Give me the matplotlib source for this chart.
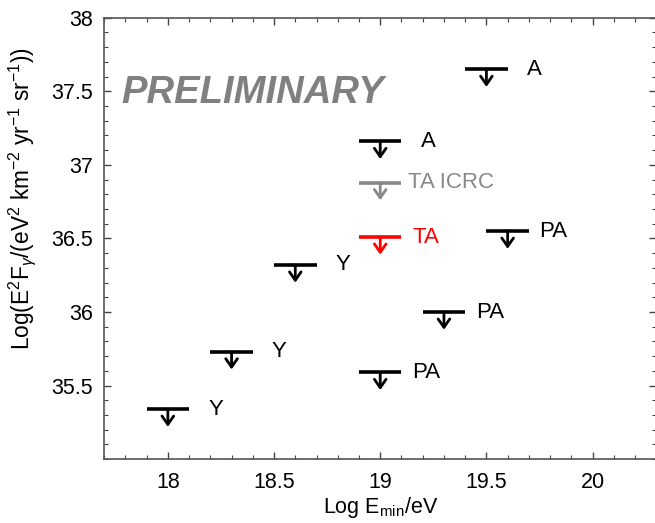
import numpy as np
import matplotlib
matplotlib.use("Agg")
import matplotlib.pyplot as plt
from matplotlib.ticker import MultipleLocator

plt.rcParams['font.family'] = ['Liberation Sans', 'DejaVu Sans']
plt.rcParams['mathtext.fontset'] = 'custom'
plt.rcParams['mathtext.rm'] = 'Liberation Sans'
plt.rcParams['mathtext.it'] = 'Liberation Sans:italic'

# upper limits: log E_min, log E^2 F, label, color
y_x = [18.0, 18.3, 18.6]
y_val = [35.34, 35.73, 36.32]
a_x = [19.0, 19.5]
a_val = [37.16, 37.65]
pa_x = [19.0, 19.3, 19.6]
pa_val = [35.59, 36.0, 36.55]
icrc_x = [19.0]
icrc_val = [36.88]
ta_x = [19.0]
ta_val = [36.51]

groups = [
    (y_x, y_val, "Y", "black", 0.19),
    (a_x, a_val, "A", "black", 0.19),
    (pa_x, pa_val, "PA", "black", 0.15),
    (icrc_x, icrc_val, "TA ICRC", "#888888", 0.13),
    (ta_x, ta_val, "TA", "red", 0.15),
]

fig = plt.figure(figsize=(6.55, 5.23), dpi=100)
ax = fig.add_axes([0.159, 0.122, 0.843, 0.844])

for xs, vals, lab, col, dx in groups:
    for x, v in zip(xs, vals):
        ax.plot([x - 0.1, x + 0.1], [v, v], color=col, lw=2.6, solid_capstyle='butt')
        ax.annotate("", xy=(x, v - 0.12), xytext=(x, v),
                    arrowprops=dict(arrowstyle="->,head_length=0.6,head_width=0.42",
                                    color=col, lw=2.0, shrinkA=0, shrinkB=0))
        ax.text(x + dx, v, lab, color=col, fontsize=16, va='center', ha='left')

ax.text(17.78, 37.42, "PRELIMINARY", color="#808080", fontsize=27.5,
        fontweight='bold', fontstyle='italic', va='baseline', ha='left')

ax.set_xlim(17.7, 20.3)
ax.set_ylim(35.0, 38.0)
ax.xaxis.set_minor_locator(MultipleLocator(0.1))
ax.yaxis.set_minor_locator(MultipleLocator(0.1))
ax.set_xticks([18, 18.5, 19, 19.5, 20])
ax.set_xticklabels(["18", "18.5", "19", "19.5", "20"])
ax.set_yticks([35.5, 36, 36.5, 37, 37.5, 38])
ax.set_yticklabels(["35.5", "36", "36.5", "37", "37.5", "38"])
ax.tick_params(which='both', direction='in', top=True, right=True, labelsize=15.5,
               colors='#444444', labelcolor='black')
ax.tick_params(which='major', length=5, width=1)
ax.tick_params(which='minor', length=3, width=0.8)
ax.tick_params(axis='x', pad=9)
ax.tick_params(axis='y', pad=8)
for s in ax.spines.values():
    s.set_color('#555555')
    s.set_linewidth(1.2)

ax.set_xlabel(r"Log E$_{\rm min}$/eV", fontsize=15.5, labelpad=2)
ax.set_ylabel(r"Log(E$^2$F$_\gamma$/(eV$^2$ km$^{-2}$ yr$^{-1}$ sr$^{-1}$))", fontsize=16.3)
ax.yaxis.set_label_coords(-0.12, 0.59)

fig.savefig("out.png", dpi=100)
